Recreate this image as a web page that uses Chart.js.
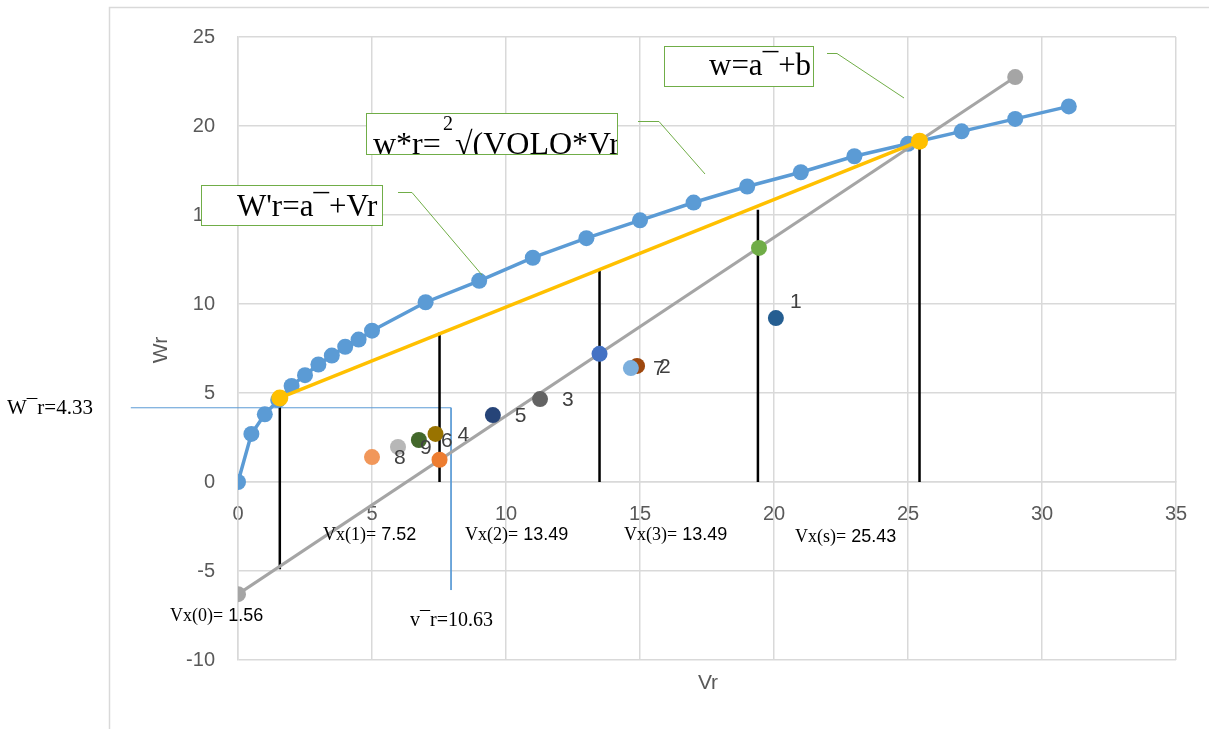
<!DOCTYPE html>
<html>
<head>
<meta charset="utf-8">
<script src="https://cdn.jsdelivr.net/npm/chart.js@4"></script>
<style>
  html, body { margin: 0; padding: 0; background: #fff; }
</style>
</head>
<body>
<canvas id="grafikVr" width="1209" height="729"></canvas>
<script>
// kurva w*r
const kurvaX = [0, 0.5, 1, 1.5, 2, 2.5, 3, 3.5, 4, 4.5, 5, 7, 9, 11, 13, 15, 17, 19, 21, 23, 25, 27, 29, 31];
const kurvaY = [0, 2.7, 3.8, 4.6, 5.4, 6.0, 6.6, 7.1, 7.6, 8.0, 8.5, 10.1, 11.3, 12.6, 13.7, 14.7, 15.7, 16.6, 17.4, 18.3, 19.0, 19.7, 20.4, 21.1];

// garis singgung (kuning) dan garis w=a+b (abu)
const singgungX = [1.56, 25.43];
const singgungY = [4.72, 19.15];
const abuX = [0, 29];
const abuY = [-6.3, 22.75];

// garis vertikal hitam
const vertikalX = [1.56, 7.52, 13.49, 19.4, 25.43];
const vertikalAtas = [4.72, 8.4, 11.9, 15.3, 19.1];
const vertikalBawah = [-4.9, 0, 0, 0, 0];

// garis rata-rata (biru tipis)
const rataX = [-4.0, 7.95, 7.95];
const rataY = [4.17, 4.17, -6.07];

// titik potong pada garis abu
const potongX = [7.52, 13.49, 19.44];
const potongY = [1.25, 7.2, 13.15];
const potongWarna = ["#ED7D31", "#4472C4", "#70AD47"];

// titik bernomor
const titikLabel = ["1", "2", "3", "4", "5", "6", "7", "8", "9"];
const titikX = [20.07, 14.89, 11.27, 7.37, 9.51, 6.75, 14.66, 5.0, 5.97];
const titikY = [9.21, 6.52, 4.66, 2.7, 3.76, 2.36, 6.4, 1.4, 1.97];
const titikWarna = ["#255E91", "#9E480E", "#636363", "#997300", "#264478", "#43682B", "#7CAFDD", "#F1975A", "#B7B7B7"];

// teks sumbu
const xMin = 0, xMax = 35, xStep = 5;
const yMin = -10, yMax = 25, yStep = 5;
const judulX = "Vr";
const judulY = "Wr";

const labelVx = [
  ["Vx(0)=", " 1.56"],
  ["Vx(1)=", " 7.52"],
  ["Vx(2)=", " 13.49"],
  ["Vx(3)=", " 13.49"],
  ["Vx(s)=", " 25.43"],
];
const posisiVx = [[170, 621], [323, 540], [465, 540], [624, 540], [795, 542]];

const pasangan = (xs, ys) => xs.map((x, i) => ({ x: x, y: ys[i] }));

const SERIF = "'Liberation Serif', 'Times New Roman', serif";
const SANS = "'Liberation Sans', Arial, sans-serif";

const garisVertikal = vertikalX.map((x, i) => ({
  data: [{ x: x, y: vertikalAtas[i] }, { x: x, y: vertikalBawah[i] }],
  showLine: true,
  borderColor: "#000000",
  borderWidth: 2.5,
  pointRadius: 0,
  order: 5,
}));

function kotakTeks(ctx, bx, by, bw, bh, gambar) {
  ctx.save();
  ctx.fillStyle = "#ffffff";
  ctx.fillRect(bx, by, bw, bh);
  ctx.beginPath();
  ctx.rect(bx, by, bw, bh);
  ctx.clip();
  ctx.fillStyle = "#000000";
  ctx.textBaseline = "alphabetic";
  ctx.textAlign = "left";
  gambar();
  ctx.restore();
  ctx.save();
  ctx.strokeStyle = "#70AD47";
  ctx.lineWidth = 1;
  ctx.strokeRect(bx, by, bw, bh);
  ctx.restore();
}

function garisPenunjuk(ctx, pts) {
  ctx.save();
  ctx.strokeStyle = "#70AD47";
  ctx.lineWidth = 1;
  ctx.beginPath();
  ctx.moveTo(pts[0][0], pts[0][1]);
  for (let i = 1; i < pts.length; i++) ctx.lineTo(pts[i][0], pts[i][1]);
  ctx.stroke();
  ctx.restore();
}

const anotasi = {
  id: "anotasi",
  afterDatasetsDraw(chart) {
    const ctx = chart.ctx;

    // label titik bernomor
    const meta = chart.getDatasetMeta(0);
    ctx.save();
    ctx.font = "21px " + SANS;
    ctx.fillStyle = "#404040";
    ctx.textBaseline = "middle";
    ctx.textAlign = "left";
    meta.data.forEach((el, i) => {
      const dx = i === 0 ? 14 : 22;
      const dy = i === 0 ? -16 : 1;
      ctx.fillText(titikLabel[i], el.x + dx, el.y + dy);
    });
    ctx.restore();
  },
  afterDraw(chart) {
    const ctx = chart.ctx;

    // bingkai luar
    ctx.save();
    ctx.strokeStyle = "#d9d9d9";
    ctx.lineWidth = 1.5;
    ctx.beginPath();
    ctx.moveTo(109.5, 729);
    ctx.lineTo(109.5, 7.5);
    ctx.lineTo(1209, 7.5);
    ctx.stroke();
    ctx.restore();

    // judul sumbu
    ctx.save();
    ctx.font = "21px " + SANS;
    ctx.fillStyle = "#595959";
    ctx.textAlign = "center";
    ctx.textBaseline = "middle";
    ctx.fillText(judulX, 708, 683);
    ctx.translate(161, 350);
    ctx.rotate(-Math.PI / 2);
    ctx.fillText(judulY, 0, 0);
    ctx.restore();

    // kotak keterangan
    garisPenunjuk(ctx, [[398, 192.5], [412, 192.5], [482, 275]]);
    garisPenunjuk(ctx, [[638, 121.5], [659, 121.5], [705, 174]]);
    garisPenunjuk(ctx, [[827, 53.5], [837, 53.5], [904, 98]]);

    kotakTeks(ctx, 201.5, 185.5, 181, 40, () => {
      ctx.font = "31px " + SERIF;
      ctx.fillText("W'r=a¯+Vr", 237, 216);
    });
    kotakTeks(ctx, 366.5, 113.5, 251, 41, () => {
      ctx.font = "32px " + SERIF;
      ctx.fillText("w*r=", 373, 154);
      ctx.font = "20px " + SERIF;
      ctx.fillText("2", 443, 130);
      ctx.font = "32px " + SERIF;
      ctx.fillText("√(VOLO*Vr", 455, 154);
    });
    kotakTeks(ctx, 664.5, 46.5, 149, 40, () => {
      ctx.font = "31px " + SERIF;
      ctx.fillText("w=a¯+b", 709, 75);
    });

    // label Vx
    ctx.save();
    ctx.fillStyle = "#000000";
    ctx.textBaseline = "alphabetic";
    ctx.textAlign = "left";
    labelVx.forEach((lbl, i) => {
      const [px, py] = posisiVx[i];
      ctx.font = "18px " + SERIF;
      ctx.fillText(lbl[0], px, py);
      const w = ctx.measureText(lbl[0]).width;
      ctx.font = "18px " + SANS;
      ctx.fillText(lbl[1], px + w, py);
    });
    ctx.font = "20px " + SERIF;
    ctx.fillText("v¯r=10.63", 410, 626);
    ctx.font = "21px " + SERIF;
    ctx.fillText("W¯r=4.33", 7, 414);
    ctx.restore();
  },
};

const ctxGrafik = document.getElementById("grafikVr").getContext("2d");

let grafikVr = new Chart(ctxGrafik, {
  type: "scatter",
  data: {
    datasets: [
      {
        label: "titik",
        data: pasangan(titikX, titikY),
        pointBackgroundColor: titikWarna,
        pointBorderWidth: 0,
        pointRadius: 8,
        order: 0,
      },
      {
        label: "potong",
        data: pasangan(potongX, potongY),
        pointBackgroundColor: potongWarna,
        pointBorderWidth: 0,
        pointRadius: 8,
        order: 1,
      },
      {
        label: "singgung",
        data: pasangan(singgungX, singgungY),
        showLine: true,
        borderColor: "#FFC000",
        backgroundColor: "#FFC000",
        borderWidth: 3.5,
        pointRadius: 8.5,
        pointBorderWidth: 0,
        order: 2,
      },
      {
        label: "abu",
        data: pasangan(abuX, abuY),
        showLine: true,
        borderColor: "#A5A5A5",
        backgroundColor: "#A5A5A5",
        borderWidth: 3,
        pointRadius: 8,
        pointBorderWidth: 0,
        order: 3,
      },
      {
        label: "kurva",
        data: pasangan(kurvaX, kurvaY),
        showLine: true,
        borderColor: "#5B9BD5",
        backgroundColor: "#5B9BD5",
        borderWidth: 3.5,
        pointRadius: 8,
        pointBorderWidth: 0,
        order: 4,
      },
      ...garisVertikal,
      {
        label: "rata",
        data: pasangan(rataX, rataY),
        showLine: true,
        borderColor: "#5B9BD5",
        borderWidth: 1,
        pointRadius: 0,
        clip: false,
        order: 6,
      },
    ],
  },
  options: {
    responsive: false,
    animation: false,
    events: [],
    layout: { padding: { left: 0, top: 37, right: 33, bottom: 69 } },
    plugins: {
      legend: { display: false },
      tooltip: { enabled: false },
    },
    scales: {
      x: {
        type: "linear",
        min: xMin,
        max: xMax,
        position: { y: 0 },
        afterFit: (s) => { s.height = 0; },
        ticks: {
          stepSize: xStep,
          padding: 20,
          color: "#595959",
          font: { family: SANS, size: 20 },
        },
        grid: { color: "#d9d9d9", lineWidth: 1.5, drawTicks: false },
        border: { color: "#d9d9d9", width: 1.5 },
      },
      y: {
        type: "linear",
        min: yMin,
        max: yMax,
        afterFit: (s) => { s.width = 238; },
        ticks: {
          stepSize: yStep,
          padding: 23,
          color: "#595959",
          font: { family: SANS, size: 20 },
        },
        grid: { color: "#d9d9d9", lineWidth: 1.5, drawTicks: false },
        border: { color: "#d9d9d9", width: 1.5 },
      },
    },
  },
  plugins: [anotasi],
});
</script>
</body>
</html>
